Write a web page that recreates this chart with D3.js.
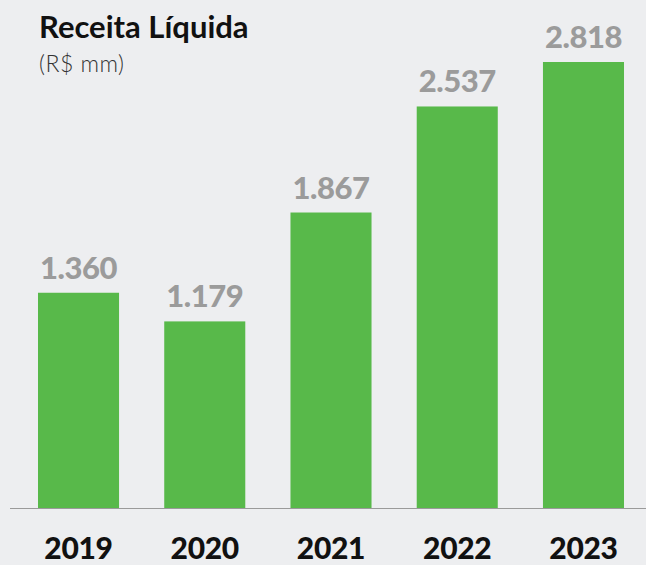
<!DOCTYPE html>
<html><head><meta charset="utf-8">
<script src="https://cdn.jsdelivr.net/npm/d3@7"></script>
<style>
html,body{margin:0;padding:0;background:#edeef0;}
svg{display:block;}
</style></head>
<body>
<script>
const years = ["2019","2020","2021","2022","2023"];
const values = [1360, 1179, 1867, 2537, 2818];
const valueLabels = ["1.360","1.179","1.867","2.537","2.818"];
const title = "Receita Líquida";
const subtitle = "(R$ mm)";

const W = 646, H = 565, baseY = 508, topY = 62;
const svg = d3.select("body").append("svg").attr("width", W).attr("height", H);
svg.append("rect").attr("width", W).attr("height", H).attr("fill", "#edeef0");

const x = d3.scaleBand().domain(years).range([15.4, 646.6]).paddingInner(0.358).paddingOuter(0.179);
const y = d3.scaleLinear().domain([0, d3.max(values)]).range([baseY, topY]);

svg.selectAll("rect.bar").data(values).join("rect").attr("class","bar")
  .attr("x", (d,i) => x(years[i])).attr("width", x.bandwidth())
  .attr("y", d => y(d)).attr("height", d => baseY - y(d))
  .attr("fill", "#58b94a");

svg.append("line").attr("x1", 10).attr("x2", W).attr("y1", baseY + 0.5).attr("y2", baseY + 0.5)
  .attr("stroke", "#9a9a9a").attr("stroke-width", 1);

svg.selectAll("text.val").data(values).join("text").attr("class","val")
  .attr("x", (d,i) => x(years[i]) + x.bandwidth()/2)
  .attr("y", d => y(d) - 14)
  .attr("text-anchor","middle")
  .attr("font-family","Lato, sans-serif").attr("font-weight", 900).attr("font-size", 31)
  .attr("letter-spacing", -0.5)
  .attr("fill","#9b9b9b")
  .text((d,i) => valueLabels[i]);

const xAxis = d3.axisBottom(x).tickSize(0).tickPadding(0);
const gx = svg.append("g").attr("transform", `translate(0,${baseY})`).call(xAxis);
gx.select(".domain").remove();
gx.selectAll("text").attr("dy", 0).attr("y", 51)
  .attr("font-family","Lato, sans-serif").attr("font-weight", 900).attr("font-size", 30)
  .attr("letter-spacing", -0.3).attr("fill","#111");

svg.append("text").attr("x", 39).attr("y", 38)
  .attr("font-family","Lato, sans-serif").attr("font-weight", 700).attr("font-size", 31)
  .attr("fill","#111").text(title);
svg.append("text").attr("x", 39).attr("y", 72)
  .attr("font-family","Lato, sans-serif").attr("font-weight", 300).attr("font-size", 23)
  .attr("letter-spacing", 0.5)
  .attr("fill","#333").text(subtitle);
</script>
</body></html>
